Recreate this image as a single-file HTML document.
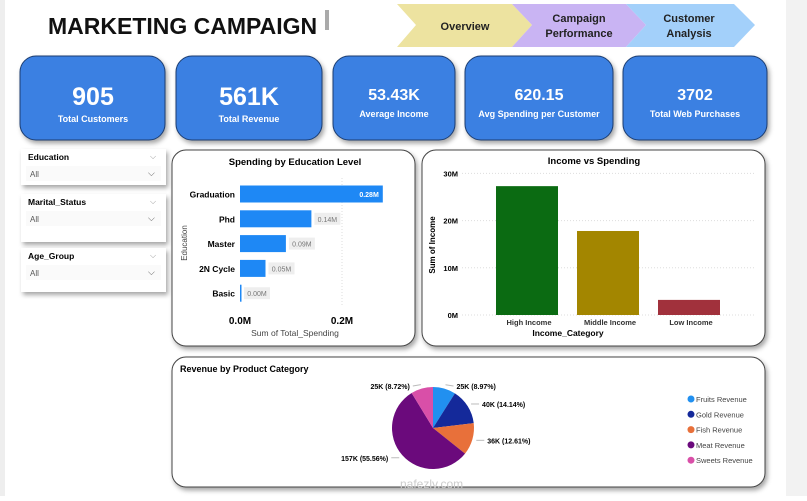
<!DOCTYPE html>
<html><head><meta charset="utf-8"><style>
body{margin:0;width:807px;height:496px;background:#fff;overflow:hidden;font-family:"Liberation Sans",sans-serif}
svg text{font-family:"Liberation Sans",sans-serif}
</style></head><body>
<svg width="807" height="496" xmlns="http://www.w3.org/2000/svg">
<defs><filter id="sh" x="-10%" y="-10%" width="125%" height="130%"><feDropShadow dx="2" dy="3" stdDeviation="2.5" flood-color="#000" flood-opacity="0.35"/></filter></defs>
<rect x="0" y="0" width="5" height="496" fill="#eee"/>
<rect x="786" y="0" width="21" height="496" fill="#f2f2f2"/>
<text x="48" y="34" font-size="23" font-weight="bold" fill="#111">MARKETING CAMPAIGN</text>
<rect x="325" y="10" width="4" height="20" fill="#aaa"/>
<g><polygon points="397,4 512,4 532,25 512,47 397,47 416,25" fill="#ede3a0"/><text x="465" y="30" text-anchor="middle" font-size="11" font-weight="bold" fill="#222">Overview</text></g>
<g><polygon points="512,4 626,4 646,25 626,47 512,47 532,25" fill="#c9b4f3"/><text x="579" y="22" text-anchor="middle" font-size="11" font-weight="bold" fill="#222">Campaign</text><text x="579" y="37" text-anchor="middle" font-size="11" font-weight="bold" fill="#222">Performance</text></g>
<g><polygon points="626,4 734,4 755,25 734,47 626,47 646,25" fill="#a3d0fa"/><text x="689" y="22" text-anchor="middle" font-size="11" font-weight="bold" fill="#222">Customer</text><text x="689" y="37" text-anchor="middle" font-size="11" font-weight="bold" fill="#222">Analysis</text></g>

<g><rect x="20" y="56" width="145" height="84" rx="16" fill="#3a80e2" stroke="#1d3d70" filter="url(#sh)"/><text x="93" y="105" text-anchor="middle" font-size="25" font-weight="bold" fill="#fff">905</text><text x="93" y="122" text-anchor="middle" font-size="9" font-weight="bold" fill="#fff">Total Customers</text></g>
<g><rect x="176" y="56" width="146" height="84" rx="16" fill="#3a80e2" stroke="#1d3d70" filter="url(#sh)"/><text x="249" y="105" text-anchor="middle" font-size="25" font-weight="bold" fill="#fff">561K</text><text x="249" y="122" text-anchor="middle" font-size="9" font-weight="bold" fill="#fff">Total Revenue</text></g>
<g><rect x="333" y="56" width="122" height="84" rx="16" fill="#3a80e2" stroke="#1d3d70" filter="url(#sh)"/><text x="394" y="100" text-anchor="middle" font-size="16" font-weight="bold" fill="#fff">53.43K</text><text x="394" y="117" text-anchor="middle" font-size="9" font-weight="bold" fill="#fff">Average Income</text></g>
<g><rect x="465" y="56" width="148" height="84" rx="16" fill="#3a80e2" stroke="#1d3d70" filter="url(#sh)"/><text x="539" y="100" text-anchor="middle" font-size="16" font-weight="bold" fill="#fff">620.15</text><text x="539" y="117" text-anchor="middle" font-size="9" font-weight="bold" fill="#fff">Avg Spending per Customer</text></g>
<g><rect x="623" y="56" width="144" height="84" rx="16" fill="#3a80e2" stroke="#1d3d70" filter="url(#sh)"/><text x="695" y="100" text-anchor="middle" font-size="16" font-weight="bold" fill="#fff">3702</text><text x="695" y="117" text-anchor="middle" font-size="9" font-weight="bold" fill="#fff">Total Web Purchases</text></g>

<g><rect x="21" y="149" width="145" height="36" fill="#fff" filter="url(#sh)"/><text x="28" y="160" font-size="8.5" font-weight="bold">Education</text><text x="150" y="159" font-size="8" fill="#999">⌵</text><rect x="26" y="166" width="135" height="15" fill="#fafafa"/><text x="30" y="177" font-size="8" fill="#555">All</text><text x="148" y="176" font-size="9" fill="#555">⌵</text></g>
<g><rect x="21" y="194" width="145" height="48" fill="#fff" filter="url(#sh)"/><text x="28" y="205" font-size="8.5" font-weight="bold">Marital_Status</text><text x="150" y="204" font-size="8" fill="#999">⌵</text><rect x="26" y="211" width="135" height="15" fill="#fafafa"/><text x="30" y="222" font-size="8" fill="#555">All</text><text x="148" y="221" font-size="9" fill="#555">⌵</text></g>
<g><rect x="21" y="248" width="145" height="44" fill="#fff" filter="url(#sh)"/><text x="28" y="259" font-size="8.5" font-weight="bold">Age_Group</text><text x="150" y="258" font-size="8" fill="#999">⌵</text><rect x="26" y="265" width="135" height="15" fill="#fafafa"/><text x="30" y="276" font-size="8" fill="#555">All</text><text x="148" y="275" font-size="9" fill="#555">⌵</text></g>

<rect x="172" y="150" width="243" height="196" rx="14" fill="#fff" stroke="#444" filter="url(#sh)"/>
<text x="295" y="165" text-anchor="middle" font-size="9.5" font-weight="bold">Spending by Education Level</text>
<g id="edu"></g>
<text x="240" y="324" text-anchor="middle" font-size="10" font-weight="bold">0.0M</text>
<text x="342" y="324" text-anchor="middle" font-size="10" font-weight="bold">0.2M</text>
<text x="295" y="336" text-anchor="middle" font-size="8.5" fill="#444">Sum of Total_Spending</text>
<text transform="translate(187,243) rotate(-90)" text-anchor="middle" font-size="8" fill="#444">Education</text>

<rect x="422" y="150" width="343" height="196" rx="14" fill="#fff" stroke="#444" filter="url(#sh)"/>
<text x="594" y="164" text-anchor="middle" font-size="9.5" font-weight="bold">Income vs Spending</text>
<g id="inc"></g>
<text x="568" y="336" text-anchor="middle" font-size="8.5" font-weight="bold">Income_Category</text>
<text transform="translate(435,245) rotate(-90)" text-anchor="middle" font-size="8" font-weight="bold">Sum of Income</text>

<rect x="172" y="357" width="593" height="130" rx="14" fill="#fff" stroke="#444" filter="url(#sh)"/>
<text x="180" y="372" font-size="9" font-weight="bold">Revenue by Product Category</text>
<g id="pie"></g>
<g id="legend"></g>
<text x="400" y="488" font-size="12" fill="#ccc">nafezly.com</text>
</svg>
<script>
const NS='http://www.w3.org/2000/svg';
function mk(p,t,a){const e=document.createElementNS(NS,t);for(const k in a)e.setAttribute(k,a[k]);p.appendChild(e);return e;}
// Education chart data
const eduCats=['Graduation','Phd','Master','2N Cycle','Basic'];
const eduVals=[0.28,0.14,0.09,0.05,0.002];
const eduLabels=['0.28M','0.14M','0.09M','0.05M','0.00M'];
const ex=v=>240+v*510, ey=i=>194+i*24.8;
const eg=document.getElementById('edu');
mk(eg,'line',{x1:342,y1:178,x2:342,y2:305,stroke:'#ddd','stroke-dasharray':'1,2'});
eduCats.forEach((c,i)=>{
 const w=Math.max(1.5,ex(eduVals[i])-240);
 const r=mk(eg,'rect',{x:240,y:ey(i)-8.5,width:w,height:17,fill:'#1e88f5'});
 
 
 const t=mk(eg,'text',{x:235,y:ey(i)+3.5,'text-anchor':'end','font-size':8.5,'font-weight':'bold'});t.textContent=c;
 if(i===0){const l=mk(eg,'text',{x:ex(eduVals[i])-4,y:ey(i)+3,'text-anchor':'end','font-size':7,'font-weight':'bold',fill:'#fff'});l.textContent=eduLabels[i];}
 else{const lx=ex(eduVals[i])+3;mk(eg,'rect',{x:lx,y:ey(i)-6,width:26,height:12,fill:'#eee'});const l=mk(eg,'text',{x:lx+13,y:ey(i)+3,'text-anchor':'middle','font-size':7,fill:'#777'});l.textContent=eduLabels[i];}
});
// Income chart data
const incCats=['High Income','Middle Income','Low Income'];
const incVals=[27.3,17.8,3.2];
const incColors=['#0b6b12','#a38600','#a1313c'];
const incTicks=[0,10,20,30];
const iy=v=>315-v*4.72, ix=i=>527+i*81;
const ig=document.getElementById('inc');
incTicks.forEach(t=>{mk(ig,'line',{x1:462,y1:iy(t),x2:756,y2:iy(t),stroke:'#ddd','stroke-dasharray':'1,2'});const l=mk(ig,'text',{x:458,y:iy(t)+3,'text-anchor':'end','font-size':7.5,'font-weight':'bold'});l.textContent=t+'M';});
incCats.forEach((c,i)=>{
 const r=mk(ig,'rect',{x:ix(i)-31,y:iy(incVals[i]),width:62,height:315-iy(incVals[i]),fill:incColors[i]});
 
 
 const l=mk(ig,'text',{x:ix(i)+2,y:325,'text-anchor':'middle','font-size':7.5,'font-weight':'bold',fill:'#333'});l.textContent=c;
});
// Pie data
const pieCats=['Fruits Revenue','Gold Revenue','Fish Revenue','Meat Revenue','Sweets Revenue'];
const pieVals=[8.97,14.14,12.61,55.56,8.72];
const pieLabels=['25K (8.97%)','40K (14.14%)','36K (12.61%)','157K (55.56%)','25K (8.72%)'];
const pieColors=['#2190f0','#14299a','#e8703a','#6b0a7c','#d94fa8'];
const cx=433,cy=428,R=41;
const pg=document.getElementById('pie');
let a0=0;const tot=pieVals.reduce((s,v)=>s+v,0);
pieVals.forEach((v,i)=>{
 const a1=a0+v/tot*2*Math.PI;
 const P=a=>[cx+R*Math.sin(a),cy-R*Math.cos(a)];
 const [x0,y0]=P(a0),[x1,y1]=P(a1);
 const s=mk(pg,'path',{d:`M${cx},${cy}L${x0},${y0}A${R},${R} 0 ${a1-a0>Math.PI?1:0} 1 ${x1},${y1}Z`,fill:pieColors[i]});
 
 
 const am=(a0+a1)/2,right=Math.sin(am)>=0;
 const [mx,my]=[cx+(R+4)*Math.sin(am),cy-(R+4)*Math.cos(am)];
 const lx=right?Math.max(mx+8,cx+18):Math.min(mx-8,cx-18);
 let ly=my; if(i===0)ly=386; if(i===4)ly=386;
 mk(pg,'polyline',{points:`${mx},${my} ${lx},${ly}`,fill:'none',stroke:'#bbb'});
 const t=mk(pg,'text',{x:right?lx+3:lx-3,y:ly+3,'text-anchor':right?'start':'end','font-size':7,'font-weight':'bold'});t.textContent=pieLabels[i];
 a0=a1;
});
const lg=document.getElementById('legend');
pieCats.forEach((c,i)=>{
 const y=399+i*15.3;
 mk(lg,'circle',{cx:691,cy:y,r:3.5,fill:pieColors[i]});
 const t=mk(lg,'text',{x:696,y:y+3,'font-size':7.5,fill:'#444'});t.textContent=c;
});
</script>
</body></html>
